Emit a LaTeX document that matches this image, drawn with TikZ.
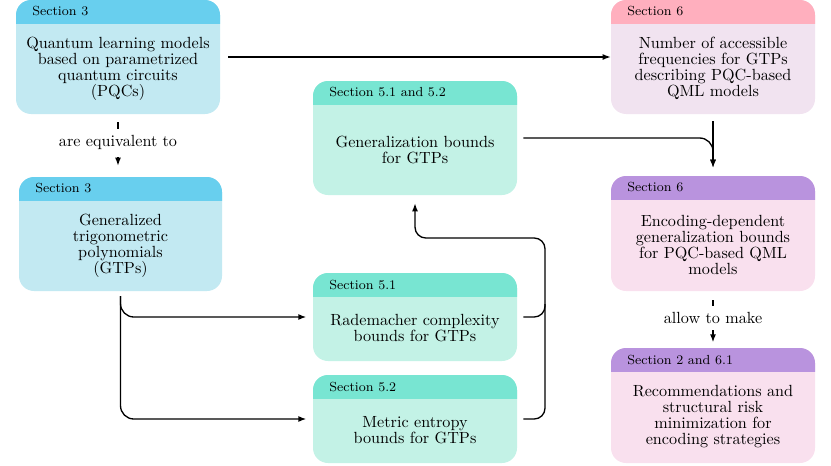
\documentclass[tikz,border=0pt]{standalone}
\usetikzlibrary{arrows.meta,fit}
\definecolor{hdrBlue}{HTML}{68CFEE}
\definecolor{bodyBlue}{HTML}{C2E9F2}
\definecolor{hdrPink}{HTML}{FFAFBE}
\definecolor{bodyLilac}{HTML}{F1E3F0}
\definecolor{hdrTeal}{HTML}{78E5D2}
\definecolor{bodyTeal}{HTML}{C3F2E6}
\definecolor{hdrPurple}{HTML}{B993DE}
\definecolor{bodyPink}{HTML}{F9E0EE}
\tikzset{
  boxshape/.style={rectangle, rounded corners=9pt, inner sep=0pt, draw=none},
  hdrtext/.style={font=\fontsize{7.9}{9}\selectfont, inner sep=0pt, anchor=west},
  bodytext/.style={font=\fontsize{9.7}{9.6}\selectfont, align=center, inner sep=0pt},
  lbl/.style={font=\fontsize{9.7}{9.6}\selectfont, inner sep=0pt},
  conn/.style={line width=0.8pt, black},
  arr/.style={conn, -{Latex[length=4.8pt,width=3.6pt]}},
}
% name, x1, y1, x2, y2, header colour, body colour, section, text
\newcommand\secnode[9]{%
  \node[boxshape, fill=#7, fit={(#2,#3) (#4,#5)}] (#1) {};
  \begin{scope}
    \clip (#2,#3) rectangle (#4,#3+23);
    \fill[#6, rounded corners=9pt] (#2,#3) rectangle (#4,#5);
  \end{scope}
  \node[hdrtext] (#1-hdr) at (#2+16,#3+11.5) {#8};
  \node[bodytext] (#1-txt) at ({(#2+#4)/2},{(#3+23+#5)/2}) {#9};
}
\begin{document}
\begin{tikzpicture}[x=0.6pt,y=-0.6pt]
\useasboundingbox (0,0) rectangle (831,465);

\secnode{A}{16}{0}{220}{114}{hdrBlue}{bodyBlue}{Section 3}{Quantum learning models\\based on parametrized\\quantum circuits\\(PQCs)}
\secnode{B}{19}{177}{222}{291}{hdrBlue}{bodyBlue}{Section 3}{Generalized\\trigonometric\\polynomials\\(GTPs)}
\secnode{C}{313}{81}{517}{195}{hdrTeal}{bodyTeal}{Section 5.1 and 5.2}{Generalization bounds\\for GTPs}
\secnode{D}{313}{273}{517}{361}{hdrTeal}{bodyTeal}{Section 5.1}{Rademacher complexity\\bounds for GTPs}
\secnode{E}{313}{375}{517}{463}{hdrTeal}{bodyTeal}{Section 5.2}{Metric entropy\\bounds for GTPs}
\secnode{F}{611}{0}{815}{114}{hdrPink}{bodyLilac}{Section 6}{Number of accessible\\frequencies for GTPs\\describing PQC-based\\QML models}
\secnode{G}{611}{176}{815}{291}{hdrPurple}{bodyPink}{Section 6}{Encoding-dependent\\generalization bounds\\for PQC-based QML\\models}
\secnode{H}{611}{348}{815}{463}{hdrPurple}{bodyPink}{Section 2 and 6.1}{Recommendations and\\structural risk\\minimization for\\encoding strategies}

% labels
\node[lbl] (l1) at (118,142) {are equivalent to};
\node[lbl] (l2) at (713,318) {allow to make};

% A -> F
\draw[arr, shorten <=4.8pt] (A.east) -- (F.west);
% A -> B
\draw[conn, shorten <=4.8pt, shorten >=3.3pt] (A.south) -- (A.south |- l1.north);
\draw[arr, shorten <=4.5pt, shorten >=6.6pt] (A.south |- l1.south) -- (A.south |- B.north);
% B -> D, B -> E
\draw[arr, rounded corners=8pt, shorten <=2.8pt, shorten >=3.8pt] (B.south) |- (D.west);
\draw[arr, rounded corners=8pt, shorten <=2.8pt, shorten >=3.8pt] (B.south) |- (E.west);
% D, E -> C
\coordinate (jn) at (545,238);
\coordinate (dj) at (545,304);
\draw[conn, rounded corners=6.5pt, shorten <=3.6pt] (D.east) -| (dj);
\draw[arr, rounded corners=6.5pt, shorten <=3.6pt, shorten >=4.8pt] (E.east) -| (jn) -| (C.south);
% C -> G, F -> G
\draw[arr, rounded corners=8pt, shorten <=3.6pt, shorten >=4.8pt] (C.east) -| (G.north);
\draw[arr, shorten <=4.2pt, shorten >=4.8pt] (F.south) -- (G.north);
% G -> H
\draw[conn, shorten <=5.4pt, shorten >=3.3pt] (G.south) -- (G.south |- l2.north);
\draw[arr, shorten <=3.6pt, shorten >=3.2pt] (G.south |- l2.south) -- (G.south |- H.north);
\end{tikzpicture}
\end{document}
